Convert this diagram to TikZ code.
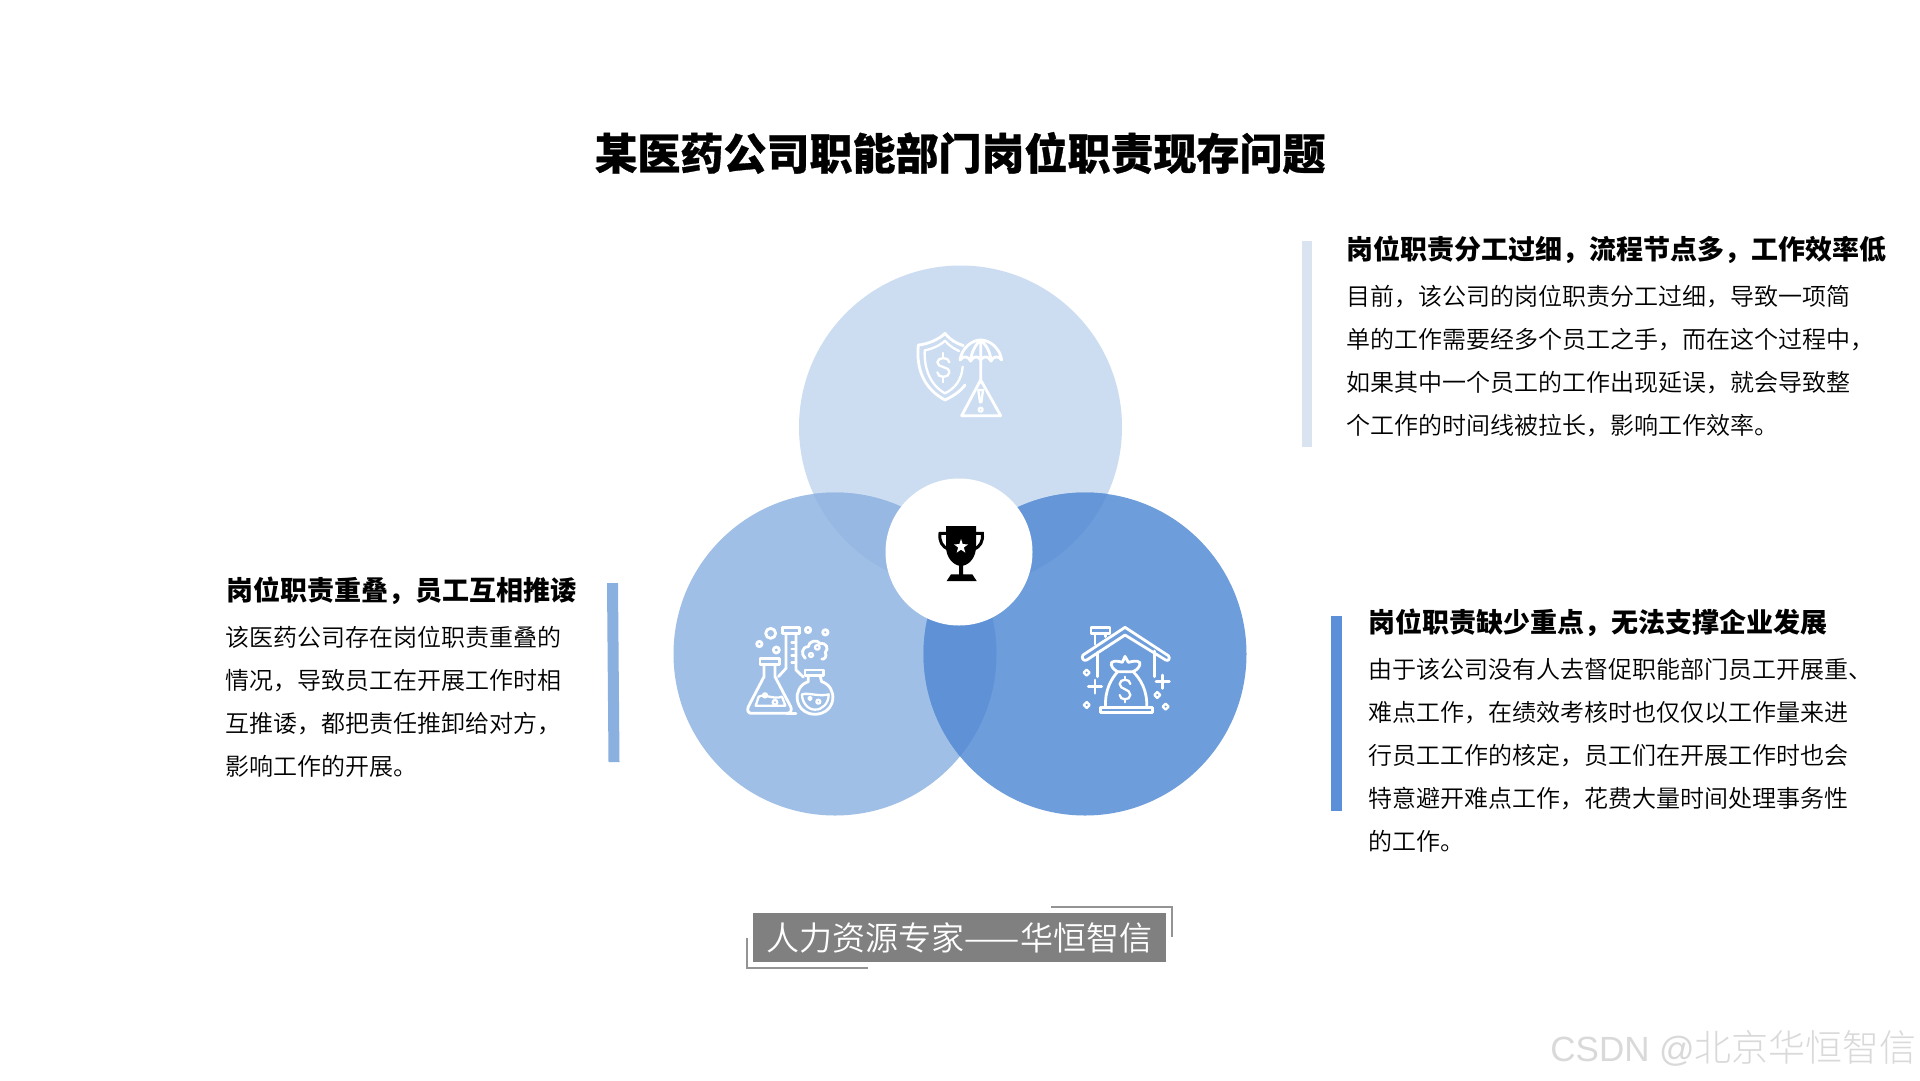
\documentclass[tikz,border=0pt]{standalone}
\usepackage{fontspec}
\setmainfont{Noto Sans CJK SC}
\newfontfamily\cjktitle[BoldFeatures={FakeBold=0.7}]{Noto Sans CJK SC}
\newfontfamily\cjkhead{Noto Sans CJK SC}
\IfFontExistsTF{Noto Sans CJK SC DemiLight}{\newfontfamily\cjklight{Noto Sans CJK SC DemiLight}}{\newfontfamily\cjklight{Noto Sans CJK SC}}
\newfontfamily\cjkthin{Noto Sans CJK SC Light}
\newfontfamily\wmlatin{Liberation Sans}
\definecolor{ctopc}{HTML}{CCDDF2}
\definecolor{cleftc}{HTML}{A0BFE6}
\definecolor{crightc}{HTML}{6D9DDA}
\definecolor{oTL}{HTML}{97B8E2}
\definecolor{oTR}{HTML}{6596D8}
\definecolor{oLR}{HTML}{5F91D6}
\definecolor{barT}{HTML}{DAE4F1}
\definecolor{barL}{HTML}{8AB0E0}
\definecolor{barR}{HTML}{5B8FD8}
\tikzset{
  bigdisc/.style={circle,minimum size=323pt,inner sep=0pt,outer sep=0pt},
  iconline/.style={draw=white,line width=2.8pt,line join=round,line cap=round},
  iconthin/.style={iconline,line width=2.3pt},
  headtext/.style={anchor=west,inner sep=0pt,text=black,font={\cjkhead\bfseries\fontsize{27}{32}\selectfont}},
  bodytext/.style={anchor=north west,inner sep=0pt,align=left,text=black,font={\cjklight\fontsize{24}{43}\selectfont}},
  cornerline/.style={draw=black!42,line width=1.4pt},
  zoomunits/.style={x=0.33333pt,y=-0.33333pt}
}
\begin{document}
\begin{tikzpicture}[x=1pt,y=-1pt]
\useasboundingbox (0,0) rectangle (1920,1080);
\fill[white] (0,0) rectangle (1920,1080);
\node[anchor=center,inner sep=0pt,text=black,font={\cjktitle\bfseries\fontsize{43}{50}\selectfont}] (title) at (960,153) {某医药公司职能部门岗位职责现存问题};
% discs
\node[bigdisc,fill=ctopc] (ctop) at (960.5,427) {};
\node[bigdisc,fill=cleftc] (cleft) at (835,654) {};
\node[bigdisc,fill=crightc] (cright) at (1085,654) {};
\begin{scope}\clip (960.5,427) circle [radius=161.5pt];\fill[oTL] (835,654) circle [radius=161.5pt];\end{scope}
\begin{scope}\clip (960.5,427) circle [radius=161.5pt];\fill[oTR] (1085,654) circle [radius=161.5pt];\end{scope}
\begin{scope}\clip (835,654) circle [radius=161.5pt];\fill[oLR] (1085,654) circle [radius=161.5pt];\end{scope}
\node[circle,fill=white,minimum size=147pt,inner sep=0pt] (hub) at (959,552) {};
% trophy
\begin{scope}[shift={(925,515)},zoomunits]
\fill[black] (63,33) -- (153,33) -- (153,95) .. controls (153,125) and (135,148) .. (114,152) -- (114,178) -- (142,178) -- (155,198) -- (65,198) -- (78,178) -- (102,178) -- (102,152) .. controls (82,148) and (63,125) .. (63,95) -- cycle;
\draw[black,line width=3pt] (64,55) -- (45,55) .. controls (42,80) and (52,95) .. (70,103);
\draw[black,line width=3pt] (152,55) -- (172,55) .. controls (175,80) and (165,95) .. (147,103);
\fill[white] (108,72) -- (113.2,87.5) -- (129.5,88) -- (116.5,97.5) -- (121,113) -- (108,104) -- (95,113) -- (99.5,97.5) -- (86.5,88) -- (102.8,87.5) -- cycle;
\end{scope}
% top icon
\begin{scope}[shift={(910,325)},zoomunits]
\draw[iconline] (160,62) .. controls (140,55) and (120,45) .. (105,25) .. controls (85,45) and (50,58) .. (25,60) .. controls (18,130) and (40,190) .. (105,225) .. controls (130,213) and (150,200) .. (165,180);
\draw[iconthin] (147,78) .. controls (130,70) and (115,60) .. (105,47) .. controls (90,62) and (65,72) .. (44,76) .. controls (42,130) and (60,180) .. (105,205) .. controls (135,190) and (155,165) .. (158,125);
\draw[iconthin] (118,112) .. controls (118,95) and (82,95) .. (82,112) .. controls (82,130) and (118,122) .. (118,142) .. controls (118,160) and (82,160) .. (82,142);
\draw[iconthin] (100,84) -- (100,96) (100,156) -- (100,172);
\draw[iconline] (150,105) .. controls (155,70) and (185,45) .. (212,45) .. controls (240,45) and (270,70) .. (275,105) .. controls (268,92) and (250,92) .. (243,108) .. controls (235,92) and (220,92) .. (212,105) .. controls (205,92) and (190,92) .. (182,108) .. controls (175,92) and (158,92) .. cycle;
\draw[iconline] (212,45) .. controls (195,60) and (183,85) .. (182,108) (212,45) .. controls (230,60) and (242,85) .. (243,108) (212,45) -- (212,165);
\draw[iconline] (212,165) -- (155,272) -- (272,272) -- cycle;
\draw[iconthin] (205,195) -- (219,195) -- (214,232) -- (210,232) -- cycle;
\draw[iconthin] (212,254) circle [radius=6];
\end{scope}
% flask icon
\begin{scope}[shift={(740,615)},zoomunits]
\draw[iconline] (92,55) circle [radius=15] (204,45) circle [radius=8] (256,52) circle [radius=8] (58,87) circle [radius=8] (109,105) circle [radius=9];
\draw[iconline] (128,38) rectangle (178,55);
\draw[iconline] (138,55) -- (138,160) -- (115,185) (168,55) -- (168,165) -- (190,186);
\draw[iconline] (168,82) -- (155,82) (168,102) -- (155,102) (168,122) -- (155,122) (168,142) -- (155,142);
\draw[iconline] (140,296) -- (168,296);
\draw[iconline] (60,130) rectangle (118,148);
\draw[iconline] (72,148) -- (72,185) -- (25,275) .. controls (20,288) and (25,295) .. (35,295) -- (140,295) .. controls (152,295) and (157,285) .. (152,275) -- (105,185) -- (105,148);
\draw[iconthin] (47,272) -- (56,245) .. controls (75,235) and (100,255) .. (126,245) -- (136,272) -- cycle;
\draw[iconthin] (75,241) circle [radius=6] (105,262) circle [radius=7];
\draw[iconline] (195,165) rectangle (250,182);
\draw[iconline] (205,182) -- (205,200) .. controls (155,215) and (160,296) .. (225,298) .. controls (290,296) and (295,215) .. (245,200) -- (240,182);
\draw[iconthin] (186,238) .. controls (205,232) and (240,246) .. (266,238) .. controls (266,265) and (248,284) .. (225,284) .. controls (203,284) and (186,262) .. (186,238);
\draw[iconthin] (210,250) circle [radius=5] (235,260) circle [radius=6];
\draw[iconline] (196,130) .. controls (182,118) and (185,95) .. (205,95) .. controls (205,78) and (232,72) .. (240,85) .. controls (258,82) and (268,100) .. (256,112) .. controls (262,125) and (252,135) .. (245,132);
\draw[iconthin] (232,97) circle [radius=7] (213,120) circle [radius=6];
\end{scope}
% house icon
\begin{scope}[shift={(1075,615)},zoomunits]
\draw[iconline] (48,38) rectangle (105,55);
\draw[iconline] (60,55) -- (60,88) (92,55) -- (92,65);
\draw[iconline] (24,120) -- (150,37) -- (280,122) .. controls (287,130) and (280,140) .. (272,135) -- (150,60) -- (35,135) .. controls (25,140) and (18,128) .. (24,120) -- cycle;
\draw[iconline] (68,112) -- (68,185) (238,108) -- (238,185);
\draw[iconline] (76,278) rectangle (232,292);
\draw[iconline] (92,278) .. controls (88,225) and (110,190) .. (128,170) -- (174,170) .. controls (195,190) and (218,225) .. (215,278);
\draw[iconline] (128,170) .. controls (115,165) and (105,150) .. (110,142) .. controls (120,135) and (135,140) .. (142,142) -- (150,124) -- (160,142) .. controls (170,140) and (185,135) .. (194,142) .. controls (198,150) and (188,165) .. (174,170);
\draw[iconthin] (166,207) .. controls (166,190) and (134,190) .. (134,207) .. controls (134,225) and (166,220) .. (166,240) .. controls (166,257) and (134,257) .. (134,240);
\draw[iconthin] (150,185) -- (150,193) (150,254) -- (150,262);
\draw[iconline] (40,215) -- (80,215) (60,195) -- (60,235) (243,200) -- (283,200) (263,180) -- (263,220);
\foreach \dx/\dy in {35/173,35/270,247/240,272/275}{
  \draw[iconthin] (\dx-9,\dy) -- (\dx,\dy-9) -- (\dx+9,\dy) -- (\dx,\dy+9) -- cycle;
}
\end{scope}
% accent bars
\fill[barT] (1301.5,241) rectangle (1311.5,447);
\fill[barL] (607,583) -- (618,583) -- (619.5,762) -- (608.5,762) -- cycle;
\fill[barR] (1331,616) rectangle (1341.5,811);
% text blocks
\node[headtext] (h1) at (1346,250) {岗位职责分工过细，流程节点多，工作效率低};
\node[bodytext] (b1) at (1346,285) {目前，该公司的岗位职责分工过细，导致一项简\\单的工作需要经多个员工之手，而在这个过程中，\\如果其中一个员工的工作出现延误，就会导致整\\个工作的时间线被拉长，影响工作效率。};
\node[headtext] (h2) at (226,591) {岗位职责重叠，员工互相推诿};
\node[bodytext] (b2) at (225,626) {该医药公司存在岗位职责重叠的\\情况，导致员工在开展工作时相\\互推诿，都把责任推卸给对方，\\影响工作的开展。};
\node[headtext] (h3) at (1368,623) {岗位职责缺少重点，无法支撑企业发展};
\node[bodytext] (b3) at (1368,658) {由于该公司没有人去督促职能部门员工开展重、\\难点工作，在绩效考核时也仅仅以工作量来进\\行员工工作的核定，员工们在开展工作时也会\\特意避开难点工作，花费大量时间处理事务性\\的工作。};
% banner
\draw[cornerline] (1051,907) -- (1172,907) -- (1172,937);
\draw[cornerline] (747,938) -- (747,968) -- (868,968);
\node[rectangle,fill=black!50,minimum width=413pt,minimum height=49pt,inner sep=0pt,text=white,font={\cjklight\fontsize{33}{38}\selectfont}] (banner) at (959.5,937.5) {人力资源专家——华恒智信};
% watermark
\node[anchor=east,inner sep=0pt,text=black!15,font={\cjkthin\fontsize{37}{44}\selectfont}] (wm) at (1917,1048) {{\wmlatin\fontsize{35}{44}\selectfont CSDN @}北京华恒智信};
\end{tikzpicture}
\end{document}
